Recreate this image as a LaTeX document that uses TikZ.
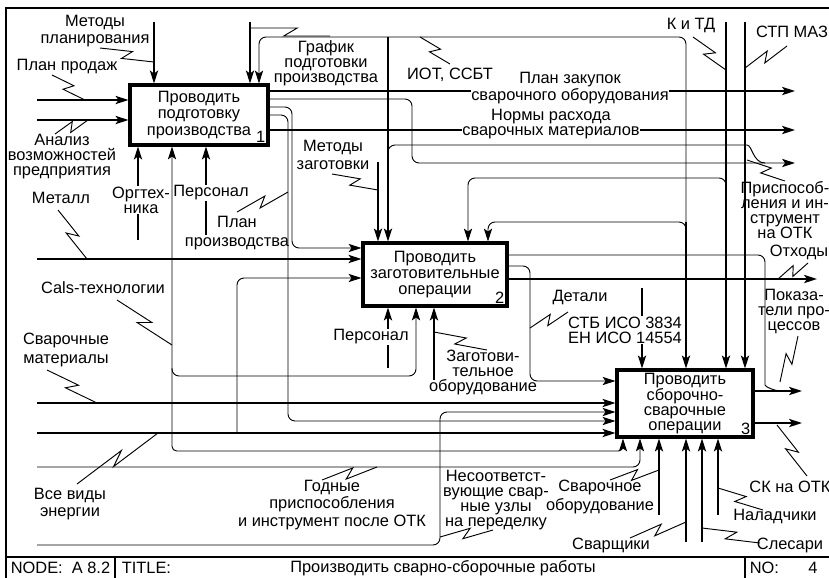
\documentclass[tikz,border=0pt]{standalone}
\usepackage{fontspec}
\setmainfont{Liberation Sans}
\usetikzlibrary{arrows.meta,calc}
\tikzset{
  >={Stealth[length=11pt,width=7pt,inset=2.5pt]},
  thk/.style={line width=1.7pt},
  thn/.style={line width=0.8pt},
  lbl/.style={align=center,inner sep=0.5pt,font=\fontsize{14}{12.8}\selectfont},
  wlbl/.style={lbl,fill=white},
  fun/.style={draw,line width=2.6pt,align=center,inner sep=2pt,font=\fontsize{14}{14}\selectfont},
  num/.style={lbl,anchor=south east,inner sep=3.5pt}
}
% lightning line from a label to its arrow
\newcommand{\zig}[2]{\draw[thn] (#1) -- ($(#1)!0.58!(#2)!4pt!90:(#2)$) -- ($(#1)!0.42!(#2)!4pt!-90:(#2)$) -- (#2);}
\begin{document}
\begin{tikzpicture}[x=0.03cm,y=-0.03cm]
  \useasboundingbox (0,0) rectangle (829,577);
  \clip (0,0) rectangle (829,577);
  % Frame and title block
  \draw[line width=2.2pt] (6,8) rectangle (850,600);
  \draw[line width=2.2pt] (6,557) -- (850,557);
  \draw[line width=1.7pt] (115,557) -- (115,600) (745,557) -- (745,600);
  \node[lbl,anchor=west] (nd) at (10,568) {NODE:\ \ A 8.2};
  \node[lbl,anchor=west] (tt) at (121,568) {TITLE:};
  \node[lbl] (ttl) at (443,568) {Производить сварно-сборочные работы};
  \node[lbl,anchor=west] (no) at (749,568) {NO:};
  \node[lbl] (nn) at (813,568) {4};
  % Function boxes
  \node[fun,minimum width=4.14cm,minimum height=1.8cm,
    label={[num]south east:1}] (b1) at (199,115) {Проводить\\подготовку\\производства};
  \node[fun,minimum width=4.32cm,minimum height=1.89cm,
    label={[num]south east:2}] (b2) at (435,274.5) {Проводить\\заготовительные\\операции};
  \node[fun,minimum width=4.08cm,minimum height=2.01cm,font=\fontsize{14}{12.7}\selectfont,
    label={[num]south east:3}] (b3) at (685,403.5) {Проводить\\сборочно-\\сварочные\\операции};

  % Box 1: inputs and controls
  \draw[thk,->] (37,100) coordinate (i11) -- (b1.west |- i11);
  \draw[thk,->] (37,120) coordinate (i12) -- (b1.west |- i12);
  \draw[thk,->] (154,22) coordinate (c11) -- (b1.north -| c11);
  \draw[thk,->] (250,22) coordinate (c12) -- (b1.north -| c12);
  % ИОТ, ССБТ
  \draw[thn,->,rounded corners=6pt] (388,37) coordinate (iot) -| (b1.north -| 259,0);
  \draw[thn,rounded corners=6pt] (iot) -| (686,222) coordinate (iot3);
  \draw[thk,->] (iot) -- (b2.north -| iot);
  \draw[thk,->] (iot3) -- (b3.north -| iot3);
  \draw[thn,->,rounded corners=6pt] ($(iot3)+(0,8)$) -- (iot3) -| (b2.north -| 488,0);
  \draw[thn,rounded corners=6pt] (388,152) |- (740,145) to[out=0,in=180] (765,163);

  % Box 1: outputs
  \draw[thk,->] (b1.east |- 0,91) -- (795,91);
  \draw[thk,->] (b1.east |- 0,130) -- (795,130);
  \draw[thn,->,rounded corners=6pt] (b1.east |- 0,99) -| (412,163) -- (795,163);
  \draw[thn,->,rounded corners=6pt] (b1.east |- 0,107) -| (292,248) -- (b2.west |- 0,248);
  \draw[thn,->,rounded corners=6pt] (b1.east |- 0,115) -| (288,421) -- (b3.west |- 0,421);
  \node[wlbl] (o11) at (570,88) {План закупок\\сварочного оборудования};
  \node[wlbl] (o12) at (551,124) {Нормы расхода\\сварочных материалов};

  % Box 1: mechanisms
  \draw[thk,->] (138,240) coordinate (m11) -- (b1.south -| m11);
  \draw[thk,->] (206,235) coordinate (m12) -- (b1.south -| m12);
  \node[wlbl] (l11) at (141,200) {Оргтех-\\ника};
  \node[wlbl] (l12) at (211,193) {Персонал};
  % Cals-технологии
  \draw[thn,<->,rounded corners=4pt] (b1.south -| 172,0) |- (600,451) -| (b3.south -| 623,0);
  \draw[thn,->,rounded corners=6pt] (172,368) |- (416,376) -- (b2.south -| 416,0);

  % Box 2
  \draw[thk,->] (37,259) coordinate (i21) -- (b2.west |- i21);
  \draw[thn,->,rounded corners=6pt] (237,433) |- (b2.west |- 0,278);
  \draw[thk,->] (378,162) coordinate (c21) -- (b2.north -| c21);
  \draw[thn,->,rounded corners=6pt] (726,186) -- (726,178) -| (b2.north -| 468,0);
  \draw[thk,->] (388,368) coordinate (m21) -- (b2.south -| m21);
  \draw[thk,->] (434,380) coordinate (m22) -- (b2.south -| m22);
  \node[wlbl] (l21) at (371,337) {Персонал};
  \draw[thk,->] (b2.east |- 0,279) -- (817,279);
  \draw[thn,->,rounded corners=6pt] (b2.east |- 0,266) -| (530,381) -- (b3.west |- 0,381);
  \draw[thn,rounded corners=6pt] (b2.east |- 0,255) -| (765,378) to[out=-90,in=180] (782,391);

  % Box 3
  \draw[thk,->] (37,403) coordinate (i31) -- (b3.west |- i31);
  \draw[thk,->] (37,433) coordinate (i32) -- (b3.west |- i32);
  \draw[thn,->,rounded corners=6pt] (37,545) -| (440,412) -- (b3.west |- 0,412);
  \draw[thn,->,rounded corners=6pt] (37,467) -| (b3.south -| 640,0);
  \draw[thk,->] (642,288) coordinate (c31) -- (b3.north -| c31);
  \draw[thk,->] (726,22) coordinate (c32) -- (b3.north -| c32);
  \draw[thk,->] (745,22) coordinate (c33) -- (b3.north -| c33);
  \node[wlbl] (l31) at (625,330) {СТБ ИСО 3834\\ЕН ИСО 14554};
  \foreach \x/\y in {659/515, 686/542, 702/542, 718/515}
    \draw[thk,->] (\x,\y) -- (b3.south -| \x,0);
  \draw[thk,->] (b3.east |- 0,391) -- (802,391);
  \draw[thk,->] (b3.east |- 0,423) -- (802,423);

  % Labels
  \node[lbl,font=\fontsize{14}{15}\selectfont] (t1) at (95,31) {Методы\\планирования};
  \zig{100,48}{154,62}
  \node[lbl] (t2) at (67,67) {План продаж};
  \zig{52,75}{85,100}
  \node[lbl] (t3) at (62,157) {Анализ\\возможностей\\предприятия};
  \zig{55,134}{88,120}
  \node[lbl] (t4) at (326,63) {График\\подготовки\\производства};
  \zig{251,28}{330,36}
  \node[lbl] (t5) at (450,75) {ИОТ, ССБТ};
  \zig{420,37}{450,64}
  \node[lbl] (t6) at (691,25) {К и ТД};
  \zig{693,37}{726,70}
  \node[lbl] (t7) at (792,32) {СТП МАЗ};
  \zig{745,68}{787,46}
  \node[lbl] (t8) at (785,210) {Приспособ-\\ления и ин-\\струмент\\на ОТК};
  \zig{747,160}{785,181}
  \node[lbl,font=\fontsize{14}{16}\selectfont] (t9) at (237,233) {План\\производства};
  \zig{237,212}{288,192}
  \node[lbl,font=\fontsize{14}{16}\selectfont] (t10) at (333,155) {Методы\\заготовки};
  \zig{332,174}{378,190}
  \node[lbl] (t11) at (61,198) {Металл};
  \zig{58,210}{87,259}
  \node[lbl] (t12) at (103,288) {Cals-технологии};
  \zig{117,300}{172,345}
  \node[lbl,font=\fontsize{14}{15.5}\selectfont] (t13) at (66,350) {Сварочные\\материалы};
  \zig{47,370}{97,403}
  \node[lbl,font=\fontsize{14}{15}\selectfont] (t14) at (70,504) {Все виды\\энергии};
  \zig{77,484}{158,433}
  \node[lbl,font=\fontsize{14}{15}\selectfont] (t15) at (332,505) {Годные\\приспособления\\и инструмент после ОТК};
  \zig{322,480}{377,467}
  \node[lbl] (t16) at (496,500) {Несоответст-\\вующие свар-\\ные узлы\\на переделку};
  \zig{440,537}{493,530}
  \node[lbl] (t17) at (483,372) {Заготови-\\тельное\\оборудование};
  \zig{434,332}{487,350}
  \node[lbl] (t18) at (580,297) {Детали};
  \zig{530,328}{568,312}
  \node[lbl] (t19) at (799,252) {Отходы};
  \zig{778,279}{808,263}
  \node[lbl] (t20) at (794,311) {Показа-\\тели про-\\цессов};
  \zig{780,382}{798,336}
  \node[lbl] (t21) at (790,487) {СК на ОТК};
  \zig{777,425}{807,476}
  \node[lbl,font=\fontsize{14}{15.5}\selectfont] (t22) at (600,497) {Сварочное\\оборудование};
  \zig{610,480}{659,470}
  \node[lbl] (t23) at (611,545) {Сварщики};
  \zig{630,538}{686,522}
  \node[lbl] (t24) at (790,545) {Слесари};
  \zig{702,528}{760,543}
  \node[lbl] (t25) at (775,516) {Наладчики};
  \zig{718,488}{763,510}
\end{tikzpicture}
\end{document}
